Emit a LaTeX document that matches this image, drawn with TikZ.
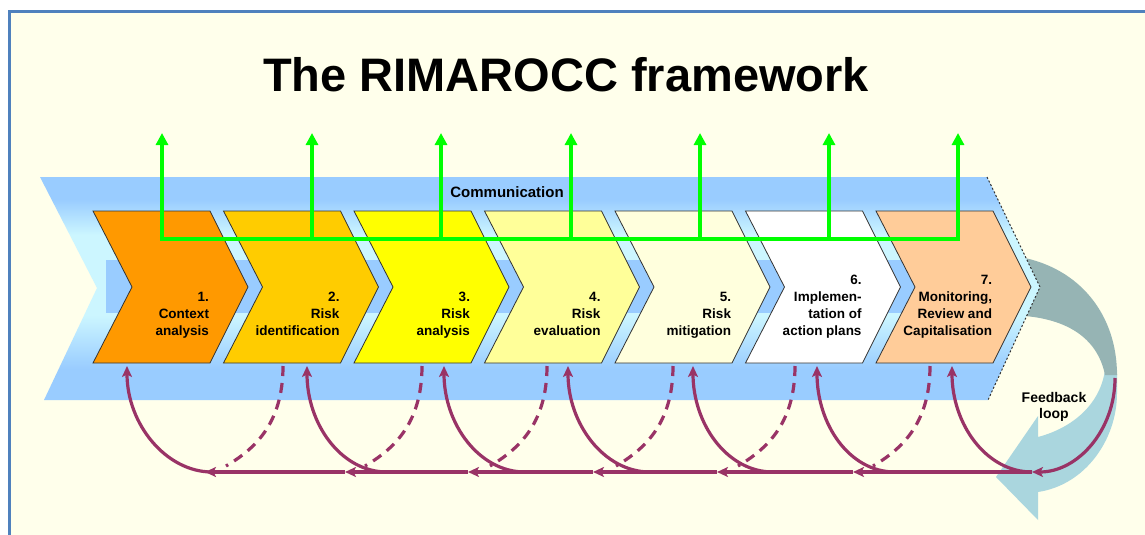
\documentclass[tikz,border=0pt]{standalone}
\usepackage{fontspec}
\setmainfont{Liberation Sans}
\usetikzlibrary{arrows.meta}
\definecolor{paperColor}{RGB}{255,255,235}
\definecolor{frameColor}{RGB}{79,129,189}
\definecolor{bandBlue}{RGB}{153,204,255}
\definecolor{bandLight}{RGB}{204,246,255}
\definecolor{edgeColor}{gray}{0.20}
\definecolor{commGreen}{RGB}{0,255,0}
\definecolor{loopPurple}{RGB}{153,51,102}
\definecolor{fbGrey}{RGB}{150,180,180}
\definecolor{fbBlue}{RGB}{170,214,222}
\definecolor{stepA}{RGB}{255,153,0}
\definecolor{stepB}{RGB}{255,204,0}
\definecolor{stepC}{RGB}{255,255,0}
\definecolor{stepD}{RGB}{255,255,153}
\definecolor{stepE}{RGB}{255,255,221}
\definecolor{stepF}{RGB}{255,255,255}
\definecolor{stepG}{RGB}{255,204,153}
\pgfdeclareverticalshading{bandshade}{100bp}{color(0bp)=(bandBlue); color(25bp)=(bandBlue); color(32bp)=(bandBlue); color(44bp)=(bandLight); color(62bp)=(bandLight); color(70bp)=(bandBlue); color(100bp)=(bandBlue)}
\begin{document}
\begin{tikzpicture}[x=1pt,y=-1pt,
  chev/.style={draw=edgeColor,line width=0.8pt,line join=miter},
  lbl/.style={anchor=south east,align=right,inner sep=0pt,outer sep=0pt,
    font=\fontsize{13.5}{17}\selectfont\bfseries,execute at end node=\strut},
  bus/.style={draw=commGreen,line width=4pt},
  busarrow/.style={bus,-{Triangle[length=12pt,width=12pt]}},
  link/.style={draw=loopPurple,line width=3.2pt,-{Stealth[length=11pt,width=10pt,inset=2.5pt]}},
  backlink/.style={draw=loopPurple,line width=3.2pt,dash pattern=on 10pt off 7pt}]
\path[use as bounding box,fill=white] (0,0) rectangle (1145,535);
\path[fill=paperColor] (9.25,11.5) rectangle (1145,535);
\path[draw=frameColor,line width=2.5pt] (9.25,535) -- (9.25,11.5) -- (1145,11.5);

\path[fill=fbBlue] (1117,370) -- (1117,393) .. controls (1117,440) and (1085,485) .. (1038,492)
	-- (1038,520) -- (996,477) -- (1038,416) -- (1038,437)
	.. controls (1072,428) and (1100,405) .. (1105,370) -- cycle;
\path[fill=fbGrey] (1020,257) .. controls (1080,268) and (1117,315) .. (1117,375)
	-- (1105,375) .. controls (1098,340) and (1070,320) .. (1025,316) -- cycle;

\shade[shading=bandshade] (40,177) -- (987,177) -- (1040,287) -- (988,400) -- (44,400) -- (97,288) -- cycle;
\path[fill=bandBlue] (106,260) rectangle (1015,313);
\path[draw=edgeColor,line width=1pt,dash pattern=on 2pt off 2pt] (987,177) -- (1040,287) -- (988,400);

\path[chev,fill=stepA] (  93.0,211) -- ( 210.0,211) -- ( 248.0,287) -- ( 210.0,363) -- (  93.0,363) -- ( 132.0,287) -- cycle;
\path[chev,fill=stepB] ( 223.5,211) -- ( 340.5,211) -- ( 378.5,287) -- ( 340.5,363) -- ( 223.5,363) -- ( 262.5,287) -- cycle;
\path[chev,fill=stepC] ( 354.0,211) -- ( 471.0,211) -- ( 509.0,287) -- ( 471.0,363) -- ( 354.0,363) -- ( 393.0,287) -- cycle;
\path[chev,fill=stepD] ( 484.5,211) -- ( 601.5,211) -- ( 639.5,287) -- ( 601.5,363) -- ( 484.5,363) -- ( 523.5,287) -- cycle;
\path[chev,fill=stepE] ( 615.0,211) -- ( 732.0,211) -- ( 770.0,287) -- ( 732.0,363) -- ( 615.0,363) -- ( 654.0,287) -- cycle;
\path[chev,fill=stepF] ( 745.5,211) -- ( 862.5,211) -- ( 900.5,287) -- ( 862.5,363) -- ( 745.5,363) -- ( 784.5,287) -- cycle;
\path[chev,fill=stepG] ( 876.0,211) -- ( 993.0,211) -- (1031.0,287) -- ( 993.0,363) -- ( 876.0,363) -- ( 915.0,287) -- cycle;

\node[lbl] (t1) at ( 209.0,340.6) {1.\\Context\\analysis};
\node[lbl] (t2) at ( 339.5,340.6) {2.\\Risk\\identification};
\node[lbl] (t3) at ( 470.0,340.6) {3.\\Risk\\analysis};
\node[lbl] (t4) at ( 600.5,340.6) {4.\\Risk\\evaluation};
\node[lbl] (t5) at ( 731.0,340.6) {5.\\Risk\\mitigation};
\node[lbl] (t6) at ( 861.5,340.6) {6.\\Implemen-\\tation of\\action plans};
\node[lbl] (t7) at ( 992.0,340.6) {7.\\Monitoring,\\Review and\\Capitalisation};

\node[anchor=base,inner sep=0pt,font=\fontsize{15}{18}\selectfont\bfseries] (comm) at (507,197.5) {Communication};

\coordinate (g1) at (162,239);
\coordinate (g2) at (312,239);
\coordinate (g3) at (441,239);
\coordinate (g4) at (571,239);
\coordinate (g5) at (700,239);
\coordinate (g6) at (829,239);
\coordinate (g7) at (958,239);
\coordinate (a1) at (162,133);
\coordinate (a2) at (312,133);
\coordinate (a3) at (441,133);
\coordinate (a4) at (571,133);
\coordinate (a5) at (700,133);
\coordinate (a6) at (829,133);
\coordinate (a7) at (958,133);
\path[bus,line cap=rect] (g1) -- (g7);
\path[busarrow] (g1) -- (a1);
\path[busarrow] (g2) -- (a2);
\path[busarrow] (g3) -- (a3);
\path[busarrow] (g4) -- (a4);
\path[busarrow] (g5) -- (a5);
\path[busarrow] (g6) -- (a6);
\path[busarrow] (g7) -- (a7);

\coordinate (h1) at ( 205,472);
\coordinate (h2) at ( 345,472);
\coordinate (h3) at ( 468,472);
\coordinate (h4) at ( 593,472);
\coordinate (h5) at ( 717,472);
\coordinate (h6) at ( 853,472);
\coordinate (h7) at (1032,472);
\coordinate (s1) at ( 212,472);
\coordinate (s2) at ( 387,472);
\coordinate (s3) at ( 525,472);
\coordinate (s4) at ( 650,472);
\coordinate (s5) at ( 773,472);
\coordinate (s6) at ( 895,472);
\coordinate (u1) at ( 127,366);
\coordinate (u2) at ( 307,366);
\coordinate (u3) at ( 444,366);
\coordinate (u4) at ( 568,366);
\coordinate (u5) at ( 693,366);
\coordinate (u6) at ( 817,366);
\coordinate (u7) at ( 952,366);
\coordinate (d2) at ( 283,366);
\coordinate (d3) at ( 422,366);
\coordinate (d4) at ( 547,366);
\coordinate (d5) at ( 673,366);
\coordinate (d6) at ( 795,366);
\coordinate (d7) at ( 930,366);
\coordinate (e2) at ( 226,466);
\coordinate (e3) at ( 365,466);
\coordinate (e4) at ( 490,466);
\coordinate (e5) at ( 616,466);
\coordinate (e6) at ( 738,466);
\coordinate (e7) at ( 873,466);
\coordinate (fb) at (1115,378);

\path[backlink] (d2) .. controls +(0,59) and +(27,-16) .. (e2);
\path[backlink] (d3) .. controls +(0,59) and +(27,-16) .. (e3);
\path[backlink] (d4) .. controls +(0,59) and +(27,-16) .. (e4);
\path[backlink] (d5) .. controls +(0,59) and +(27,-16) .. (e5);
\path[backlink] (d6) .. controls +(0,59) and +(27,-16) .. (e6);
\path[backlink] (d7) .. controls +(0,59) and +(27,-16) .. (e7);

\path[link] (s1) .. controls +(-46,0) and +(0,58) .. (u1);
\path[link] (s2) .. controls +(-46,0) and +(0,58) .. (u2);
\path[link] (s3) .. controls +(-46,0) and +(0,58) .. (u3);
\path[link] (s4) .. controls +(-46,0) and +(0,58) .. (u4);
\path[link] (s5) .. controls +(-46,0) and +(0,58) .. (u5);
\path[link] (s6) .. controls +(-46,0) and +(0,58) .. (u6);
\path[link] (h7) .. controls +(-46,0) and +(0,58) .. (u7);

\path[link] (fb) .. controls +(0,52) and +(46,0) .. (h7);
\path[link] (h7) -- (h6);
\path[link] (h6) -- (h5);
\path[link] (h5) -- (h4);
\path[link] (h4) -- (h3);
\path[link] (h3) -- (h2);
\path[link] (h2) -- (h1);

\node[align=center,inner sep=0pt,font=\fontsize{14}{16}\selectfont\bfseries] (fbtext) at (1054,406.5) {Feedback\\loop};

\node[anchor=base,inner sep=0pt,font=\fontsize{47}{56}\selectfont\bfseries] (title) at (566,92) {The RIMAROCC framework};
\end{tikzpicture}
\end{document}
